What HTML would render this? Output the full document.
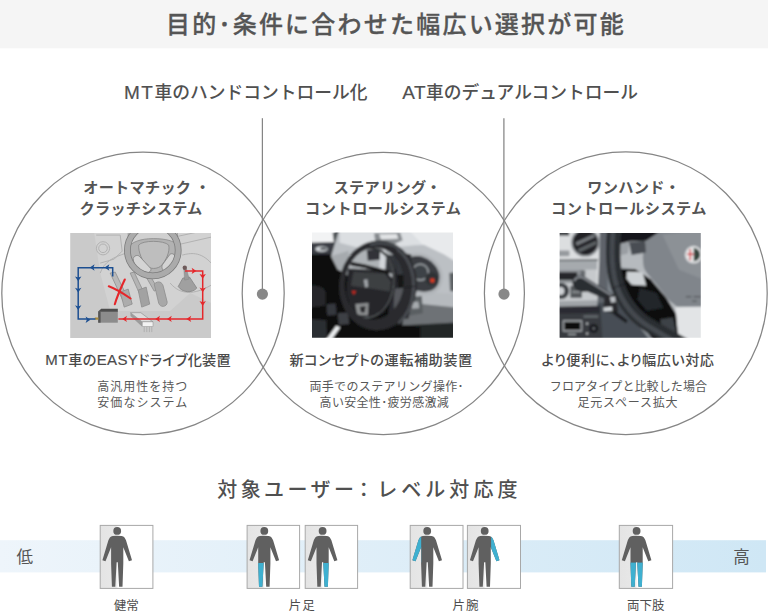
<!DOCTYPE html>
<html lang="ja">
<head>
<meta charset="utf-8">
<title>目的･条件に合わせた幅広い選択が可能</title>
<style>
html,body{margin:0;padding:0;background:#fff;}
body{width:768px;height:611px;overflow:hidden;position:relative;font-family:"Liberation Sans","Noto Sans CJK JP",sans-serif;}
svg{position:absolute;left:0;top:0;display:block;}
svg text{font-family:"Liberation Sans","Noto Sans CJK JP",sans-serif;fill:#4d4d4d;}
.t1{font-size:24px;font-weight:500;letter-spacing:2.22px;fill:#555;stroke:#555;stroke-width:0.3px;}
.t2{font-size:17.75px;font-weight:500;fill:#505050;}
.ct{font-size:15.2px;font-weight:700;fill:#555;}
.cs{font-size:14.2px;font-weight:500;fill:#4a4a4a;font-feature-settings:"palt";}
.cd{font-size:12px;font-weight:400;fill:#585858;}
.t3{font-size:20px;font-weight:500;letter-spacing:3.4px;fill:#505050;}
.la{stroke:#505050;stroke-width:0.18px;}
.lv{font-size:16.5px;font-weight:400;fill:#555;}
.lb{font-size:12.5px;font-weight:400;fill:#4d4d4d;}
</style>
</head>
<body>
<svg width="768" height="611" viewBox="0 0 768 611">
<defs>
  <linearGradient id="bar" x1="0" y1="0" x2="1" y2="0">
    <stop offset="0" stop-color="#eef5fb"/>
    <stop offset="1" stop-color="#cfe7f5"/>
  </linearGradient>
  <linearGradient id="boxbg" x1="0" y1="0" x2="1" y2="0">
    <stop offset="0" stop-color="#e4e4e4"/>
    <stop offset="0.3" stop-color="#e8e8e8"/>
    <stop offset="0.34" stop-color="#ffffff"/>
    <stop offset="1" stop-color="#ffffff"/>
  </linearGradient>
  <filter id="bl1" x="-5%" y="-5%" width="110%" height="110%"><feGaussianBlur stdDeviation="0.45"/></filter>
  <filter id="bl2" x="-5%" y="-5%" width="110%" height="110%"><feGaussianBlur stdDeviation="4.5"/></filter>
  <!-- person figure, origin at head centre x, box top -->
  <path id="bodyp" d="M-4.4,10.5 Q0,10 4.4,10.5 C7,10.9 8,12.9 8.8,14.9 L14.8,34.8 L11.7,35.9 L6.1,21.8 L6.1,38 L5.3,61.4 L1.9,61.4 L0.6,36.8 L-0.6,36.8 L-1.9,61.4 L-5.3,61.4 L-6.1,38 L-6.1,21.8 L-11.7,35.9 L-14.8,34.8 L-8.8,14.9 C-8,12.9 -7,10.9 -4.4,10.5 Z"/>
  <clipPath id="bodyclip"><use href="#bodyp"/></clipPath>
  <g id="body">
    <circle cx="0" cy="5.5" r="3.9"/>
    <use href="#bodyp"/>
  </g>
</defs>

<!-- top banner -->
<rect x="0" y="0" width="768" height="48.3" fill="#f5f5f5"/>
<text class="t1" x="166" y="33">目的･条件に合わせた幅広い選択が可能</text>

<!-- sub headings -->
<text class="t2" x="124" y="99.2"><tspan class="la" font-size="19" letter-spacing="1.5">MT</tspan>車のハンドコントロール化</text>
<text class="t2" x="402.3" y="99.2"><tspan class="la" font-size="19" letter-spacing="0.4">AT</tspan>車のデュアルコントロール</text>

<!-- connector lines -->
<g stroke="#858585" stroke-width="1.25" fill="none">
  <line x1="262.4" y1="118.2" x2="262.4" y2="294"/>
  <line x1="503.9" y1="118.2" x2="503.9" y2="294"/>
  <circle cx="143" cy="293.3" r="141.2"/>
  <circle cx="383.3" cy="293.4" r="141.1"/>
  <circle cx="625.8" cy="293.2" r="141.4"/>
</g>
<circle cx="262.4" cy="294.1" r="5.6" fill="#888"/>
<circle cx="504" cy="294.1" r="5.6" fill="#888"/>

<!-- circle 1 text -->
<text class="ct" x="83.2" y="192.6" letter-spacing="0.25">オートマチック<tspan dx="4">・</tspan></text>
<text class="ct" x="79.5" y="213.6" letter-spacing="0.25">クラッチシステム</text>
<text class="cs" x="45.2" y="365.4" letter-spacing="0.25"><tspan class="la" font-size="15" letter-spacing="0.7">MT</tspan>車の<tspan class="la" font-size="15" letter-spacing="0.4">EASY</tspan>ドライブ化装置</text>
<text class="cd" x="97.3" y="390.7" letter-spacing="1">高汎用性を持つ</text>
<text class="cd" x="97.3" y="406.6" letter-spacing="1.05">安価なシステム</text>

<!-- circle 2 text -->
<text class="ct" x="333.5" y="192.6" letter-spacing="0.3">ステアリング<tspan dx="-0.5">・</tspan></text>
<text class="ct" x="305.1" y="213.6" letter-spacing="0.49">コントロールシステム</text>
<text class="cs" x="289.6" y="365.4" letter-spacing="0.5">新コンセプトの運転補助装置</text>
<text class="cd" x="309.4" y="391" letter-spacing="0.35">両手でのステアリング操作･</text>
<text class="cd" x="319.6" y="406.8" letter-spacing="0.32">高い安全性･疲労感激減</text>

<!-- circle 3 text -->
<text class="ct" x="587.3" y="192.6" letter-spacing="0.3">ワンハンド<tspan dx="0">・</tspan></text>
<text class="ct" x="551.1" y="213.6" letter-spacing="0.44">コントロールシステム</text>
<text class="cs" x="541.5" y="365.4" letter-spacing="0.45">より便利に､より幅広い対応</text>
<text class="cd" x="549.8" y="391" letter-spacing="0.1">フロアタイプと比較した場合</text>
<text class="cd" x="577.5" y="406.6" letter-spacing="0.78">足元スペース拡大</text>

<!-- photo placeholders -->
<g id="photo1" transform="translate(70.2,233.1)">
  <clipPath id="p1c"><rect width="140.8" height="104.9"/></clipPath>
  <g clip-path="url(#p1c)">
  <g filter="url(#bl1)">
  <rect x="-5" y="-5" width="151" height="115" fill="#cacaca"/>
  <!-- interior lighter area -->
  <path d="M24,0 L141,0 L141,70 L120,60 L100,78 L40,78 L30,40 Z" fill="#d2d2d2"/>
  <!-- dashboard outline bits -->
  <g fill="none" stroke="#b2b2b2" stroke-width="1">
    <circle cx="32.8" cy="15.2" r="6.6"/><circle cx="32.8" cy="15.2" r="4.3"/>
    <path d="M26,2 L50,2 L52,18 L44,26 L30,30"/>
    <path d="M30,40 C34,28 44,24 56,20"/>
    <path d="M104,4 L141,-4 M106,12 L141,4 M112,22 C120,20 130,18 141,30"/>
    <path d="M100,50 C110,62 124,62 141,52"/>
  </g>
  <!-- pedals -->
  <g stroke="#8d8d8d" stroke-width="0.8">
    <path d="M40,40 L45,39 L58,66 L53,68 Z" fill="#b9b9b9"/>
    <path d="M50,59 L58,56 L62,71 L54,74 Z" fill="#acacac"/>
    <path d="M60,40 L64,39 L74,60 L70,62 Z" fill="#b4b4b4"/>
    <path d="M68,57 L76,54 L79.5,71 L71.5,74 Z" fill="#a2a2a2"/>
    <path d="M76,44 L80,43 L88,56 L84,58 Z" fill="#b4b4b4"/>
    <path d="M84,51 C88,47 92,49 93,53 L97,69 C97,74 90,75 88.5,70 Z" fill="#a8a8a8"/>
  </g>
  <!-- steering wheel -->
  <ellipse cx="82.6" cy="17.2" rx="25.4" ry="25.6" fill="#b2b2b2"/>
  <path d="M58,14 C62,9 70,5.5 83,5.5 C96,5.5 104,8 107.5,12 L107,-4 L58,-4 Z" fill="#d0d0d0" stroke="#858585" stroke-width="0.7"/>
  <path d="M68.5,12 C72,7 94,7 98.5,12 C100,18 96,28 90,33.5 C86,36 80,36 77,33 C72,28 68,19 68.5,12 Z" fill="#bebebe" stroke="#858585" stroke-width="0.8"/>
  <path d="M63,25.4 C64,22.6 67,21.6 69,23 L80.6,35.4 C81.4,37.4 79,40 76.6,39.4 L68.4,36.6 C65.4,34 63,29 63,25.4 Z" fill="#d4d4d4" stroke="#808080" stroke-width="0.8"/>
  <path d="M92,32 L99.4,21.6 C101,19.8 104,20.6 104.6,23 C104.6,27 102.6,31 101.6,32 L95.4,37.6 C93,38.6 91,35 92,32 Z" fill="#d4d4d4" stroke="#808080" stroke-width="0.8"/>
  <ellipse cx="82.6" cy="17.2" rx="25.4" ry="25.6" fill="none" stroke="#7c7c7c" stroke-width="6.8"/>
  <ellipse cx="82.6" cy="17.2" rx="25.4" ry="25.6" fill="none" stroke="#ababab" stroke-width="5.2"/>
  <!-- gear shift -->
  <path d="M112.6,45 L119.4,44 L126.6,55 C122,60.4 112,59.6 108,53.4 Z" fill="#a0a0a0" stroke="#808080" stroke-width="0.7"/>
  <path d="M113.6,36 L116.4,36 L119,46 L114.4,47 Z" fill="#9a9a9a" stroke="#808080" stroke-width="0.4"/>
  <circle cx="114.6" cy="34.6" r="2.2" fill="#6e5a5a"/>
  <!-- devices -->
  <path d="M28,78.4 L31,75.6 L47.6,75.6 L47.6,79 L28,79 Z" fill="#4e4e4e"/>
  <rect x="28" y="78.6" width="19.6" height="11" fill="#8c8c8c"/>
  <rect x="28" y="78.6" width="2.4" height="11" fill="#555"/>
  <rect x="24.6" y="84.4" width="3.6" height="2.2" fill="#a98a3a"/>
  <path d="M60.3,79.6 L70.6,79.6 L82.8,88.8 L72,88.8 Z" fill="#dcdcdc" stroke="#8a8a8a" stroke-width="0.6"/>
  <path d="M60.3,79.6 L72,88.8 L72,93.6 L60.3,83 Z" fill="#9c9c9c"/>
  <rect x="72" y="88.8" width="10.8" height="4.8" fill="#f2f2f2" stroke="#8a8a8a" stroke-width="0.5"/>
  <path d="M74,93.6 V99 M76.6,93.6 V99 M79.2,93.6 V99 M81.6,93.6 V99" stroke="#a5a5a5" stroke-width="0.7"/>
  <!-- blue circuit -->
  <path d="M42.5,43.4 L42.5,34.6 L8,34.6 L8,86 L25.2,86" fill="none" stroke="#1d4f91" stroke-width="1.5"/>
  <g transform="translate(0.6,0.3)"><polygon points="19.0,34.1 23.8,30.9 22.6,34.1 23.8,37.3" fill="#1d4f91"/><polygon points="33.8,34.1 38.6,30.9 37.4,34.1 38.6,37.3" fill="#1d4f91"/><polygon points="7.4,47.8 4.2,43.0 7.4,44.2 10.6,43.0" fill="#1d4f91"/><polygon points="7.4,59.2 4.2,54.4 7.4,55.6 10.6,54.4" fill="#1d4f91"/><polygon points="7.4,76.6 4.2,71.8 7.4,73.0 10.6,71.8" fill="#1d4f91"/><polygon points="19.6,86.3 14.8,83.1 16.0,86.3 14.8,89.5" fill="#1d4f91"/></g>
  <!-- red circuit -->
  <path d="M114.8,37.8 L132.5,37.8 L132.5,85.8 L48.2,85.8" fill="none" stroke="#e5282c" stroke-width="1.5"/>
  <polygon points="126.2,37.8 121.4,34.6 122.6,37.8 121.4,41.0" fill="#e5282c"/><polygon points="132.5,45.6 129.3,40.8 132.5,42.0 135.7,40.8" fill="#e5282c"/><polygon points="132.5,59.2 129.3,54.4 132.5,55.6 135.7,54.4" fill="#e5282c"/><polygon points="132.5,72.8 129.3,68.0 132.5,69.2 135.7,68.0" fill="#e5282c"/><polygon points="116.2,85.8 121.0,82.6 119.8,85.8 121.0,89.0" fill="#e5282c"/><polygon points="96.8,85.8 101.6,82.6 100.4,85.8 101.6,89.0" fill="#e5282c"/><polygon points="85.0,85.8 89.8,82.6 88.6,85.8 89.8,89.0" fill="#e5282c"/><polygon points="52.0,85.8 56.8,82.6 55.6,85.8 56.8,89.0" fill="#e5282c"/>
  <path d="M38.6,53.2 C46,56 54,61 60.4,65.4" fill="none" stroke="#e5282c" stroke-width="2.1" stroke-linecap="round"/>
  <path d="M54.6,46.4 C51,54 47,63 44.6,71.2" fill="none" stroke="#e5282c" stroke-width="2.1" stroke-linecap="round"/>
  </g>
  </g>
</g>
<g id="photo2" transform="translate(312,232.5)">
  <clipPath id="p2c"><rect width="141" height="105.3"/></clipPath>
  <g clip-path="url(#p2c)">
  <g transform="scale(0.18359)" filter="url(#bl2)">
    <rect x="-30" y="-30" width="840" height="660" fill="#0e0f10"/>
    <!-- door / left -->
    <path d="M-20,-20 L180,-20 L180,140 L-20,150 Z" fill="#3a3e44"/>
    <path d="M-20,120 L150,118 L260,330 L200,620 L-20,620 Z" fill="#0b0b0c"/>
    <path d="M-20,-20 L125,-20 L120,52 L-20,56 Z" fill="#f2f3f4"/>
    <path d="M112,0 L168,-4 L166,44 L118,48 Z" fill="#4e5256"/>
    <ellipse cx="52" cy="90" rx="34" ry="15" fill="#d0d4d8"/>
    <ellipse cx="62" cy="88" rx="18" ry="6.5" fill="#34383c"/>
    <path d="M-20,292 C30,284 72,296 74,330 L72,398 L-20,410 Z" fill="#262829"/>
    <path d="M-20,470 L78,478 L84,620 L-20,620 Z" fill="#2c2e30"/>
    <path d="M72,590 L132,508 L154,518 L102,590 Z" fill="#eceef0"/>
    <path d="M78,392 L128,386 L134,448 L84,454 Z" fill="#36383c"/>
    <path d="M140,440 L198,434 L202,498 L146,504 Z" fill="#3e4044"/>
    <!-- dashboard -->
    <path d="M150,-20 L800,-20 L800,420 L560,350 L330,330 L250,330 L192,232 L140,200 L104,130 L125,60 Z" fill="#bcc0c4"/>
    <path d="M106,128 L200,100 L196,232 L140,200 Z" fill="#a6aaae"/>
    <path d="M150,-20 L800,-20 L800,60 L560,70 L300,96 L150,56 Z" fill="#dcdfe2"/>
    <path d="M520,-20 L800,-20 L800,170 L720,120 L600,62 Z" fill="#e8eaec"/>
    <path d="M338,4 L480,0 L494,42 L450,62 L344,46 Z" fill="#868a8e"/>
    <path d="M366,10 L462,8 L470,34 L376,38 Z" fill="#e2e4e6"/>
    <!-- lower right dash -->
    <path d="M520,350 L800,392 L800,620 L470,620 Z" fill="#6e7276"/>
    <path d="M566,322 L800,338 L800,410 L596,390 Z" fill="#b6babe"/>
    <path d="M500,505 L800,490 L800,620 L470,620 Z" fill="#242628"/>
    <path d="M330,496 L590,512 L590,620 L320,620 Z" fill="#0d0d0e"/>
    <!-- instrument cluster -->
    <path d="M540,120 C600,90 700,150 712,230 C716,300 680,345 600,340 L540,330 Z" fill="#b0b4b8"/>
    <path d="M540,134 C596,112 682,160 694,232 C698,290 668,326 600,322 L540,312 Z" fill="#3a3e42"/>
    <circle cx="590" cy="216" r="48" fill="#959a9e"/>
    <circle cx="590" cy="216" r="39" fill="#3e4246"/>
    <circle cx="652" cy="252" r="36" fill="#2e3134"/>
    <rect x="645" y="251" width="21" height="21" rx="4" fill="#e03a22"/>
    <path d="M748,220 L800,215 L800,325 L752,318 Z" fill="#5c6064"/>
    <!-- column / stalk area between ring and rim -->
    <path d="M430,100 L540,120 L560,330 L525,470 L410,470 L440,300 Z" fill="#2a2c30"/>
    <path d="M448,122 L520,124 L528,236 L470,250 Z" fill="#34383c"/>
    <path d="M462,232 L530,226 L534,300 L470,306 Z" fill="#121316"/>
    <path d="M448,306 L522,300 L518,420 L446,424 Z" fill="#56595d"/>
    <path d="M524,352 L598,346 L604,440 L534,452 Z" fill="#5a5e62"/>
    <path d="M540,380 L580,376 L584,412 L546,416 Z" fill="#a6aaae"/>
    <!-- upper region seen through wheel -->
    <path d="M215,100 L440,80 L450,205 L215,215 Z" fill="#aeb2b6"/>
    <path d="M298,94 L372,88 L378,148 L304,154 Z" fill="#303337"/>
    <path d="M372,96 L404,92 L398,200 L366,204 Z" fill="#d2d6da"/>
    <path d="M404,120 L450,124 L452,232 L400,212 Z" fill="#36393d"/>
    <!-- hub -->
    <path d="M196,196 L398,206 L446,258 L440,340 L392,440 L300,472 L222,448 L186,330 Z" fill="#25272a"/>
    <path d="M226,214 L396,224 L430,268 L424,322 L330,306 L212,290 Z" fill="#3c3f43"/>
    <path d="M282,258 L302,254 L305,296 L290,300 Z" fill="#a4a8ac"/>
    <path d="M216,318 L240,318 L228,340 Z" fill="#c8281e"/>
    <path d="M236,390 L308,384 L304,452 L246,448 Z" fill="#8e9092"/>
    <path d="M260,404 L292,400 L288,436 L266,436 Z" fill="#2a2c2e"/>
    <!-- inner control ring -->
    <ellipse cx="308" cy="275" rx="141" ry="193" fill="none" stroke="#191a1c" stroke-width="13" transform="rotate(6 308 275)"/>
    <ellipse cx="305" cy="272" rx="141" ry="193" fill="none" stroke="#8e9296" stroke-width="3.5" transform="rotate(6 308 275)"/>
    <path d="M212,160 L290,174 L424,210 L420,228 L288,194 L210,180 Z" fill="#131315"/>
    <!-- steering wheel rim -->
    <path d="M148,288 a212,245 0 1,0 424,0 a212,245 0 1,0 -424,0 Z M178,280 a160,196 0 1,0 320,0 a160,196 0 1,0 -320,0 Z" fill="#292b2e" fill-rule="evenodd" transform="rotate(6 360 288)"/>
    <path d="M470,96 C540,150 566,250 548,350 C538,410 512,455 476,490" fill="none" stroke="#484c51" stroke-width="16" stroke-linecap="round"/>
    <path d="M320,66 C370,52 430,60 470,86" fill="none" stroke="#50545a" stroke-width="10" stroke-linecap="round"/>
    <path d="M508,300 L566,292" stroke="#15161a" stroke-width="4"/>
  </g>
  </g>
</g>
<g id="photo3" transform="translate(559.6,233)">
  <clipPath id="p3c"><rect width="141.2" height="104.8"/></clipPath>
  <g clip-path="url(#p3c)">
  <g transform="scale(0.18359)" filter="url(#bl2)">
    <rect x="-30" y="-30" width="840" height="660" fill="#858b91"/>
    <!-- dash gap -->
    <path d="M195,-20 L300,-20 L300,620 L195,620 Z" fill="#7d848b"/>
    <path d="M195,-20 L262,-20 L262,420 L195,420 Z" fill="#5e646a"/>
    <path d="M195,380 L330,380 L520,620 L195,620 Z" fill="#474d54"/>
    <!-- console silver -->
    <path d="M-20,-20 L218,-20 L216,150 L204,404 L-20,410 Z" fill="#dcdee0"/>
    <path d="M-20,146 L206,144 L204,200 L-20,204 Z" fill="#a6aaae"/>
    <path d="M-20,144 L208,142 L208,152 L-20,154 Z" fill="#6e7276"/>
    <rect x="-20" y="200" width="222" height="204" fill="#c6c9cc"/>
    <rect x="-20" y="200" width="150" height="72" fill="#8e9296"/>
    <path d="M-20,372 L204,366 L204,410 L-20,414 Z" fill="#a0a4a8"/>
    <path d="M-20,402 L222,396 L222,440 L-20,444 Z" fill="#2a2c30"/>
    <!-- vent -->
    <circle cx="140" cy="52" r="78" fill="#8e9296"/>
    <circle cx="140" cy="52" r="68" fill="#222427"/>
    <path d="M86,52 L186,6 L194,22 L94,70 Z" fill="#73777b"/>
    <path d="M98,88 L198,42 L204,60 L108,106 Z" fill="#5c6064"/>
    <rect x="-10" y="-10" width="62" height="24" fill="#3a3e42"/>
    <rect x="-10" y="96" width="64" height="30" rx="5" fill="#969a9e"/>
    <!-- radio details -->
    <rect x="-10" y="214" width="106" height="42" fill="#26282c"/>
    <rect x="114" y="204" width="26" height="32" fill="#666a6e"/>
    <circle cx="8" cy="316" r="44" fill="#3c4044"/>
    <circle cx="4" cy="316" r="22" fill="#cfd2d5"/>
    <rect x="58" y="288" width="64" height="66" rx="6" fill="#54585c"/>
    <rect x="68" y="316" width="44" height="10" fill="#8a8e92"/>
    <!-- climate panel -->
    <path d="M-20,440 L224,434 L236,620 L-20,620 Z" fill="#373b3f"/>
    <rect x="16" y="474" width="108" height="64" rx="5" fill="#969a9e"/>
    <rect x="26" y="484" width="88" height="44" fill="#0e0f11"/>
    <rect x="130" y="448" width="80" height="14" fill="#62666a"/>
    <circle cx="186" cy="520" r="24" fill="#17181a"/>
    <circle cx="186" cy="520" r="9" fill="#5a5e62"/>
    <circle cx="150" cy="494" r="6" fill="#c8cacc"/><circle cx="150" cy="548" r="6" fill="#c8cacc"/>
    <rect x="46" y="548" width="44" height="8" fill="#a0a4a8"/>
    <!-- black gap above hub -->
    <path d="M320,-20 L560,-20 L470,46 L380,48 L320,70 Z" fill="#17181a"/>
    <!-- silver spoke / lower right -->
    <path d="M286,70 L380,46 L470,42 L455,110 L460,190 L520,270 L600,370 L640,400 L800,400 L800,620 L650,620 L620,470 L560,350 L480,250 L400,196 L320,186 L288,165 Z" fill="#b6babe"/>
    <path d="M296,70 L380,48 L372,112 L300,130 Z" fill="#9a9ea3"/>
    <path d="M630,404 L800,400 L800,620 L655,620 Z" fill="#e2e4e6"/>
    <!-- black behind wheel -->
    <path d="M330,196 L410,196 L496,252 L580,352 L634,440 L650,620 L540,620 L430,480 L350,350 Z" fill="#0b0c0d"/>
    <path d="M436,300 L528,326 L566,408 L474,424 L424,364 Z" fill="#232529"/>
    <path d="M548,470 L618,460 L650,620 L570,620 Z" fill="#3e4247"/>
    <!-- column shroud light -->
    <path d="M366,210 L452,214 L472,288 L392,282 L364,248 Z" fill="#cdd1d4"/>
    <!-- hub -->
    <path d="M470,42 L545,-4 L800,-20 L800,400 L640,400 C620,385 610,375 600,370 C570,335 545,300 520,270 C495,240 470,215 460,190 C454,165 452,135 455,110 Z" fill="#80858b"/>
    <path d="M560,10 L800,-20 L800,260 L650,200 Z" fill="#8c9196"/>
    <path d="M378,50 L466,42 L470,106 L392,120 Z" fill="#494d52"/>
    <!-- alfa logo -->
    <circle cx="730" cy="118" r="48" fill="#d8dadc"/>
    <circle cx="730" cy="118" r="36" fill="#f4f4f4"/>
    <path d="M730,82 A36,36 0 0 1 730,154 Z" fill="#34443e"/>
    <rect x="708" y="88" width="8" height="60" fill="#c8202a"/>
    <rect x="696" y="112" width="34" height="8" fill="#c8202a"/>
    <rect x="688" y="344" width="30" height="6" fill="#4a4e52"/><rect x="730" y="344" width="40" height="6" fill="#4a4e52"/>
    <rect x="722" y="366" width="26" height="10" fill="#64686c"/>
    <!-- rim -->
    <path d="M298,-20 C286,100 290,210 318,290 C350,380 400,450 490,505 C540,535 600,570 680,612" fill="none" stroke="#2b2e32" stroke-width="78"/>
    <path d="M292,-20 C280,100 284,210 312,292 C344,382 394,452 484,508 C534,538 590,572 660,612" fill="none" stroke="#454a50" stroke-width="26"/>
    <path d="M290,300 L366,274" stroke="#17181b" stroke-width="4"/>
    <!-- stalk -->
    <path d="M70,272 C68,240 100,222 132,236 L296,338 L284,374 L150,318 C110,326 74,308 70,272 Z" fill="#2c2e32"/>
    <path d="M80,262 C84,240 112,234 132,246 L286,342" fill="none" stroke="#868a90" stroke-width="10"/>
    <path d="M244,344 L306,338 L320,428 L288,438 L238,420 Z" fill="#292b2d"/>
    <path d="M238,406 L286,402 L288,424 L240,426 Z" fill="#ced2d6"/>
    <path d="M274,350 L302,346 L306,376 L280,380 Z" fill="#babec2"/>
    <path d="M298,420 L372,476 L362,492 L292,442 Z" fill="#1c1e20"/>
  </g>
  </g>
</g>

<!-- bottom heading -->
<text class="t3" x="217.3" y="497">対象ユーザー<tspan dx="-3.5">：</tspan><tspan letter-spacing="4.05">レベル対応度</tspan></text>

<!-- level bar -->
<rect x="0" y="540.2" width="766" height="32.2" fill="url(#bar)"/>
<text class="lv" x="16.5" y="563.4">低</text>
<text class="lv" x="733.2" y="563.4">高</text>

<!-- figure boxes -->
<g id="figs">
  <g transform="translate(100.2,525.4)">
    <rect width="52.7" height="63" fill="url(#boxbg)" stroke="#a8a8a8" stroke-width="1"/>
    <g transform="translate(17.0,0)">
      <use href="#body" fill="#606060"/>
    </g>
  </g>
  <g transform="translate(247.1,525.4)">
    <rect width="52.5" height="63" fill="url(#boxbg)" stroke="#a8a8a8" stroke-width="1"/>
    <g transform="translate(17.2,0)">
      <use href="#body" fill="#606060"/>
      <rect x="-7" y="37.6" width="7" height="25" fill="#3fb0d0" clip-path="url(#bodyclip)"/>
    </g>
  </g>
  <g transform="translate(305.2,525.4)">
    <rect width="52.4" height="63" fill="url(#boxbg)" stroke="#a8a8a8" stroke-width="1"/>
    <g transform="translate(17.4,0)">
      <use href="#body" fill="#606060"/>
      <rect x="0" y="37.6" width="7" height="25" fill="#3fb0d0" clip-path="url(#bodyclip)"/>
    </g>
  </g>
  <g transform="translate(410.2,525.4)">
    <rect width="52.8" height="63" fill="url(#boxbg)" stroke="#a8a8a8" stroke-width="1"/>
    <g transform="translate(17.0,0)">
      <use href="#body" fill="#606060"/>
      <rect x="-16" y="9" width="10" height="28" fill="#3fb0d0" clip-path="url(#bodyclip)"/>
    </g>
  </g>
  <g transform="translate(467.4,525.4)">
    <rect width="53.1" height="63" fill="url(#boxbg)" stroke="#a8a8a8" stroke-width="1"/>
    <g transform="translate(17.3,0)">
      <use href="#body" fill="#606060"/>
      <rect x="6.4" y="9" width="10" height="28" fill="#3fb0d0" clip-path="url(#bodyclip)"/>
    </g>
  </g>
  <g transform="translate(619.3,525.4)">
    <rect width="53.3" height="63" fill="url(#boxbg)" stroke="#a8a8a8" stroke-width="1"/>
    <g transform="translate(17.3,0)">
      <use href="#body" fill="#606060"/>
      <rect x="-7" y="37.2" width="14" height="25" fill="#3fb0d0" clip-path="url(#bodyclip)"/>
    </g>
  </g>
</g>

<!-- labels -->
<text class="lb" x="113.8" y="609.6">健常</text>
<text class="lb" x="288.8" y="609.6" letter-spacing="1">片足</text>
<text class="lb" x="452.4" y="609.6" letter-spacing="1.2">片腕</text>
<text class="lb" x="627" y="609.6">両下肢</text>
</svg>
</body>
</html>
